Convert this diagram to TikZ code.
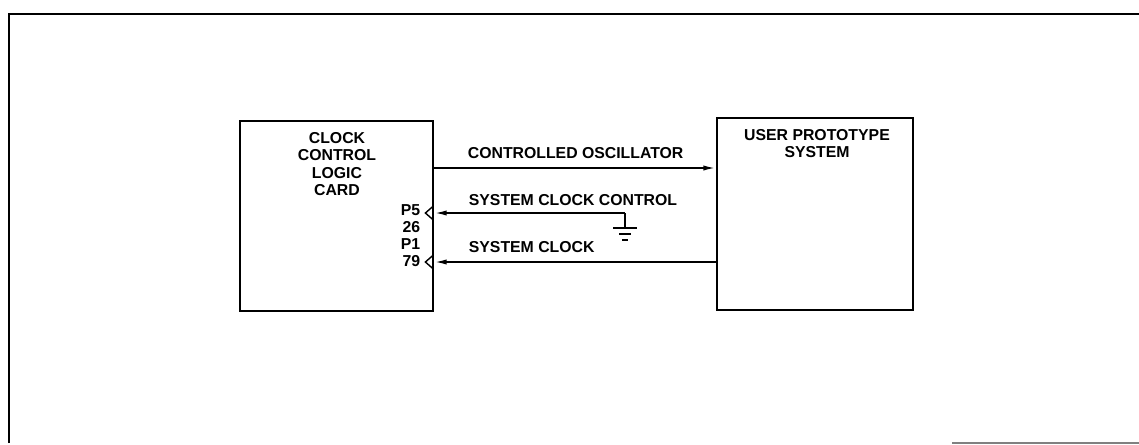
\documentclass[tikz,border=0pt]{standalone}
\usepackage{fontspec}
\setmainfont{Liberation Sans}
\usetikzlibrary{arrows.meta}

\begin{document}
\begin{tikzpicture}[>={Latex[length=7pt,width=3pt]},x=.02cm,y=-.02cm,line width=1pt,
  every node/.style={font=\bfseries\fontsize{9}{9.7}\selectfont,inner sep=0pt},
  blk/.style={draw,line width=1.6pt,inner sep=0pt}]
\useasboundingbox (0,0) rectangle (1139,444);
\draw[line width=1.2pt] (9,443)--(9,14)--(1139,14);\draw[line width=.8pt,gray] (952,443)--(1139,443);
% the two boxes
\node[blk,minimum width=3.86cm,minimum height=3.8cm] (card) at (336.5,216){};
\node[blk,minimum width=3.92cm,minimum height=3.84cm] (proto) at (815,214){};
\node[align=center,anchor=north] (cardtxt) at (337,132){CLOCK\\CONTROL\\LOGIC\\CARD};
\node[align=center,anchor=north] (prototxt) at (817,129){USER PROTOTYPE\\SYSTEM};
\node[align=right,anchor=north east] (pins) at (421,204){P5\\26\\P1\\79};
% signals
\coordinate (osc) at (0,168);\coordinate (gnd) at (625,213);\coordinate (sc) at (0,262);
\draw[->] (card.east|-osc)--(proto.west|-osc);
\draw[->] (gnd)--(card.east|-gnd);
\draw[->] (proto.west|-sc)--(card.east|-sc);
\draw (gnd)--++(0,15) ++(-12,0)--++(24,0) ++(-18,6)--++(12,0) ++(-9,6)--++(6,0);
\draw[line width=.8pt] (card.east|-gnd) ++(-1,-7)--++(-8,7)--++(8,7);
\draw[line width=.8pt] (card.east|-sc) ++(-1,-7)--++(-8,7)--++(8,7);
\node[anchor=base west] (osctxt) at (467,158){CONTROLLED OSCILLATOR};
\node[anchor=base west] (ctltxt) at (468,205){SYSTEM CLOCK CONTROL};
\node[anchor=base west] (sctxt) at (468,252){SYSTEM CLOCK};
\end{tikzpicture}
\end{document}
